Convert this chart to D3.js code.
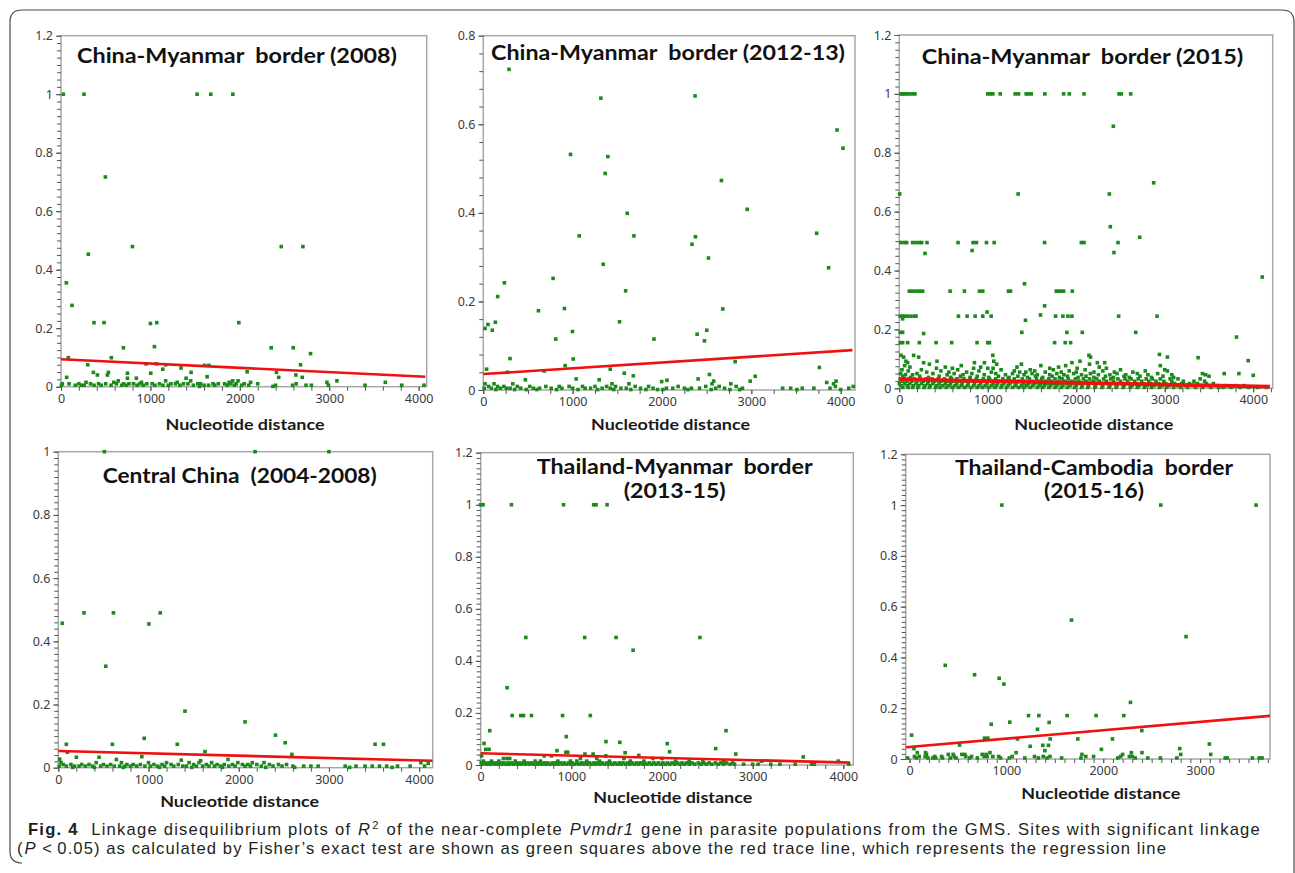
<!DOCTYPE html>
<html>
<head>
<meta charset="utf-8">
<script src="https://cdn.jsdelivr.net/npm/d3@7"></script>
<style>
  body { margin: 0; background: #fff; }
  svg text { white-space: pre; }
  .tick text { font-family: "Noto Sans", sans-serif; font-size: 12.5px; fill: #3a3a3a; }
  .tick line { stroke: #555; }
</style>
</head>
<body>
<svg id="fig" width="1295" height="873"></svg>
<script>
// ---- data: [R2 value, [nucleotide distances...]] rows ----
var cm2008Rows = [
  [1.0, [26, 257, 1522, 1675, 1922]],
  [0.717, [496]],
  [0.479, [799, 2463, 2705]],
  [0.453, [306]],
  [0.355, [60]],
  [0.278, [123]],
  [0.219, [369, 481, 1071, 1989]],
  [0.216, [1000]],
  [0.137, [1045]],
  [0.133, [698, 2351, 2597]],
  [0.113, [2791]],
  [0.099, [82, 563]],
  [0.078, [951, 1067]],
  [0.075, [299, 1172, 2679]],
  [0.073, [1604, 1653]],
  [0.064, [1343]],
  [0.06, [1138]],
  [0.051, [2082]],
  [0.049, [362, 530, 1455, 2410]],
  [0.046, [743, 1004]],
  [0.04, [407, 519, 2627]],
  [0.034, [1634]],
  [0.032, [63, 2435, 2698]],
  [0.029, [743, 843, 1399]],
  [0.02, [640, 1170, 1450, 1920, 1980, 3086]],
  [0.015, [280, 590, 900, 1300, 1880, 2120, 2974, 3627]],
  [0.01, [15, 90, 200, 330, 420, 500, 620, 700, 760, 810, 880, 960, 1020, 1100, 1230, 1280, 1370, 1420, 1530, 1560, 1700, 1760, 1830, 1900, 1960, 2050, 2200, 2630]],
  [0.005, [5, 160, 230, 260, 370, 450, 560, 680, 730, 850, 920, 1050, 1140, 1200, 1330, 1480, 1600, 1650, 1720, 1860, 1940, 2020, 2100, 2400, 2590, 2740, 2800, 2990, 3400, 3810, 4060]],
  [0.001, [1550, 2370]]
];
var cm2012Rows = [
  [0.724, [288]],
  [0.664, [2370]],
  [0.659, [1316]],
  [0.587, [3959]],
  [0.546, [4026]],
  [0.532, [976]],
  [0.527, [1394]],
  [0.489, [1364]],
  [0.473, [2665]],
  [0.408, [2953]],
  [0.399, [1611]],
  [0.354, [3731]],
  [0.348, [1073, 1686]],
  [0.346, [2374]],
  [0.329, [2336]],
  [0.298, [2520]],
  [0.284, [1342]],
  [0.276, [3865]],
  [0.252, [781]],
  [0.242, [236]],
  [0.224, [1593]],
  [0.211, [161]],
  [0.184, [908]],
  [0.183, [2680]],
  [0.179, [617]],
  [0.154, [1525]],
  [0.153, [135]],
  [0.148, [52]],
  [0.139, [19]],
  [0.135, [101, 2501]],
  [0.132, [998]],
  [0.126, [2393]],
  [0.115, [811, 1910]],
  [0.111, [2475]],
  [0.071, [299]],
  [0.07, [1006]],
  [0.064, [2819]],
  [0.055, [916]],
  [0.051, [3761]],
  [0.047, [37, 1421]],
  [0.043, [680]],
  [0.04, [273]],
  [0.038, [1578]],
  [0.035, [2531]],
  [0.032, [1679]],
  [0.031, [3043]],
  [0.025, [1039, 2404]],
  [0.023, [471, 1297]],
  [0.022, [2056]],
  [0.02, [2579, 2987, 3948]],
  [0.019, [1996]],
  [0.017, [3843]],
  [0.014, [20, 120, 330, 1440, 1630, 2560, 2770, 3920]],
  [0.008, [60, 160, 230, 380, 520, 700, 850, 960, 1110, 1250, 1380, 1480, 1700, 1850, 2180, 2490, 2640, 2830, 3940, 4140]],
  [0.004, [10, 90, 190, 260, 300, 420, 560, 630, 760, 880, 1000, 1140, 1200, 1330, 1420, 1540, 1600, 1760, 1900, 2050, 2120, 2250, 2330, 2420, 2600, 2700, 2900, 3350, 3440, 3570, 3700, 3880, 4090]],
  [0.001, [140, 350, 480, 600, 820, 1060, 1280, 1460, 1650, 1820, 1950, 2010, 2290, 2550, 2760, 2870, 3510, 4000]]
];
var cm2015Rows = [
  [1.0, [19, 38, 57, 87, 113, 151, 177, 1000, 1026, 1057, 1140, 1309, 1347, 1434, 1460, 1491, 1645, 1857, 1921, 2087, 2483, 2509, 2615]],
  [0.89, [2419]],
  [0.698, [2875]],
  [0.66, [4, 1343, 2374]],
  [0.549, [2385]],
  [0.513, [2717]],
  [0.495, [19, 57, 83, 151, 189, 226, 253, 313, 664, 834, 872, 985, 1072, 1642, 2057, 2087, 2472]],
  [0.468, [823]],
  [0.461, [2426]],
  [0.458, [291]],
  [0.378, [4102]],
  [0.355, [1415]],
  [0.33, [113, 151, 189, 226, 264, 574, 736, 906, 943, 1234, 1257, 1774, 1800, 1830, 1857, 1955]],
  [0.28, [1642]],
  [0.259, [992]],
  [0.249, [1596]],
  [0.245, [11, 38, 64, 94, 132, 170, 189, 668, 766, 857, 943, 1038, 1766, 1849, 1906, 1951, 2479, 2913]],
  [0.236, [38]],
  [0.231, [1426]],
  [0.19, [11, 38, 1385, 1894, 2068, 2672]],
  [0.186, [275]],
  [0.174, [3811]],
  [0.155, [11, 38, 94, 226, 415, 592, 879, 1000, 1019, 1755, 1875, 1936]],
  [0.115, [2940]],
  [0.112, [19, 162, 1057, 2143]],
  [0.106, [49, 219, 2162, 3030]],
  [0.104, [3377]],
  [0.094, [3943]],
  [0.092, [75, 426, 1068, 2042]],
  [0.087, [94, 275, 849, 962, 1951, 2238, 2321]],
  [0.082, [340, 1100, 1380, 2150]],
  [0.077, [60, 700, 1600, 1880, 2950]],
  [0.072, [120, 520, 920, 1330, 1800, 2260]],
  [0.068, [420, 600, 840, 1000, 1060, 1700, 2010, 2340]],
  [0.063, [30, 250, 660, 1150, 1480, 1740, 2100, 2500, 3000]],
  [0.059, [100, 470, 900, 1300, 1530, 1920, 2300, 2780, 3030]],
  [0.055, [310, 560, 760, 1040, 1360, 1430, 1650, 1830, 2000, 2200, 2430, 2640]],
  [0.05, [15, 200, 380, 620, 820, 1090, 1280, 1500, 1780, 1970, 2160, 2460, 2690, 2920, 3426, 3672, 3838]],
  [0.046, [70, 150, 540, 720, 960, 1200, 1410, 1560, 1700, 1860, 2060, 2250, 2380, 2560, 2810, 3080, 3460]],
  [0.044, [4000]],
  [0.041, [40, 230, 450, 690, 880, 1120, 1340, 1540, 1730, 1900, 2110, 2330, 2540, 2720, 2980, 3500]],
  [0.037, [130, 330, 580, 800, 1010, 1240, 1450, 1620, 1810, 2020, 2200, 2420, 2600, 2850, 3100]],
  [0.032, [10, 55, 110, 170, 240, 300, 370, 440, 510, 590, 650, 730, 800, 870, 950, 1020, 1090, 1170, 1230, 1300, 1390, 1470, 1550, 1610, 1690, 1760, 1840, 1910, 1990, 2080, 2150, 2230, 2310, 2390, 2470, 2550, 2620, 2700, 2790, 2860, 2950, 3060, 3150, 3400]],
  [0.024, [30, 80, 140, 200, 270, 330, 400, 470, 540, 610, 690, 760, 830, 910, 980, 1050, 1130, 1200, 1270, 1350, 1420, 1500, 1580, 1650, 1720, 1800, 1870, 1950, 2030, 2110, 2190, 2260, 2340, 2420, 2500, 2580, 2660, 2740, 2820, 2900, 2990, 3080, 3210, 3330, 3450]],
  [0.016, [0, 60, 120, 190, 250, 320, 380, 450, 520, 580, 650, 710, 780, 850, 920, 990, 1060, 1110, 1180, 1250, 1320, 1400, 1460, 1530, 1600, 1670, 1740, 1810, 1890, 1960, 2040, 2120, 2200, 2280, 2360, 2440, 2520, 2600, 2680, 2760, 2840, 2930, 3010, 3110, 3190, 3280, 3370, 3470, 3550]],
  [0.009, [20, 90, 160, 220, 290, 350, 420, 490, 560, 630, 700, 770, 840, 900, 970, 1040, 1100, 1160, 1230, 1310, 1380, 1440, 1510, 1580, 1640, 1710, 1780, 1850, 1930, 2000, 2070, 2140, 2220, 2300, 2380, 2460, 2540, 2630, 2710, 2800, 2880, 2970, 3050, 3140, 3230, 3320, 3420, 3510, 3600, 3700, 3800, 3900]],
  [0.003, [40, 100, 150, 210, 280, 340, 410, 460, 530, 600, 670, 740, 810, 880, 940, 1010, 1080, 1150, 1210, 1280, 1350, 1410, 1480, 1560, 1620, 1690, 1760, 1830, 1900, 1980, 2060, 2130, 2210, 2290, 2370, 2450, 2530, 2610, 2690, 2770, 2850, 2940, 3020, 3100, 3180, 3260, 3350, 3430, 3520, 3610, 3660, 3750, 3850, 3950, 4050, 4150]]
];
var ccRows = [
  [1.0, [511, 2181, 3000]],
  [0.49, [285, 611, 1130]],
  [0.457, [44]],
  [0.455, [1004]],
  [0.321, [526]],
  [0.179, [1404]],
  [0.145, [2070]],
  [0.103, [2407]],
  [0.093, [952]],
  [0.079, [2515]],
  [0.074, [89, 600, 1319, 3511, 3604]],
  [0.051, [1626]],
  [0.049, [100]],
  [0.042, [2589]],
  [0.035, [926]],
  [0.033, [200, 452]],
  [0.027, [15]],
  [0.026, [644, 1881]],
  [0.024, [1363]],
  [0.022, [1578]],
  [0.016, [30, 420, 700, 1000, 1200, 1450, 1560, 1700, 1990, 2150, 2280, 4019]],
  [0.014, [4100]],
  [0.01, [55, 140, 260, 340, 500, 580, 760, 830, 910, 1060, 1150, 1250, 1330, 1500, 1640, 1760, 1840, 1930, 2040, 2100, 2200, 2340, 2440, 2530]],
  [0.005, [10, 90, 180, 230, 300, 380, 470, 540, 620, 680, 740, 800, 870, 960, 1020, 1100, 1180, 1280, 1380, 1420, 1530, 1600, 1670, 1730, 1800, 1890, 1960, 2070, 2130, 2250, 2380, 2480, 2600, 2720, 2800, 2880, 3180, 3300, 3400, 3480, 3560, 3640, 3760, 3900, 4060]],
  [0.001, [160, 400, 720, 1120, 1480, 1820, 2300, 2620, 3230, 3700]]
];
var tmRows = [
  [1.0, [0, 26, 339, 914, 1246, 1272, 1394]],
  [0.49, [498, 1147, 1493, 2418]],
  [0.441, [1681]],
  [0.297, [291]],
  [0.19, [347, 442, 472, 560, 903, 1209]],
  [0.132, [100, 2706]],
  [0.109, [944]],
  [0.09, [1382]],
  [0.087, [1534]],
  [0.083, [37]],
  [0.082, [2057]],
  [0.063, [2592]],
  [0.06, [55, 92]],
  [0.055, [841]],
  [0.051, [2083]],
  [0.049, [940, 960]],
  [0.047, [1593]],
  [0.042, [1150, 1240, 2813]],
  [0.037, [1744]],
  [0.035, [10, 700, 780, 1380]],
  [0.031, [3558]],
  [0.025, [250, 290, 320, 1100, 1280, 1580, 1900, 2000]],
  [0.015, [30, 120, 200, 380, 480, 600, 660, 850, 990, 1060, 1170, 1310, 1420, 1650, 1800, 2150, 2300, 2450, 2680, 3100, 3945]],
  [0.008, [5, 45, 85, 130, 170, 215, 255, 300, 340, 390, 430, 470, 520, 560, 610, 650, 700, 740, 790, 830, 880, 920, 970, 1010, 1060, 1110, 1150, 1200, 1250, 1290, 1340, 1390, 1430, 1480, 1530, 1570, 1620, 1670, 1720, 1760, 1810, 1860, 1910, 1960, 2010, 2060, 2110, 2170, 2220, 2270, 2330, 2400, 2460, 2520, 2590, 2650, 2710, 2780]],
  [0.003, [20, 65, 105, 150, 190, 235, 280, 320, 365, 410, 450, 495, 540, 585, 630, 675, 720, 765, 810, 855, 900, 945, 990, 1035, 1085, 1130, 1175, 1225, 1270, 1315, 1365, 1410, 1455, 1505, 1550, 1600, 1645, 1695, 1740, 1790, 1835, 1885, 1935, 1985, 2035, 2085, 2140, 2195, 2245, 2300, 2360, 2430, 2490, 2550, 2620, 2680, 2750, 2800, 2900, 3000, 3060, 3200, 3300, 3470, 3650, 3680, 4060]]
];
var tcRows = [
  [1.0, [953, 2594, 3578]],
  [0.547, [1672]],
  [0.482, [2855]],
  [0.369, [368]],
  [0.332, [671]],
  [0.318, [925]],
  [0.295, [974]],
  [0.223, [2281]],
  [0.171, [1228, 1335, 1627, 1926, 2212]],
  [0.145, [1035]],
  [0.144, [1441]],
  [0.137, [843]],
  [0.117, [1321]],
  [0.112, [2398]],
  [0.094, [21]],
  [0.082, [774, 808]],
  [0.079, [1115, 1452, 1737, 2095]],
  [0.059, [3096]],
  [0.055, [516]],
  [0.054, [1376, 1434]],
  [0.05, [1245]],
  [0.041, [45, 2790]],
  [0.038, [1981]],
  [0.033, [1397]],
  [0.025, [80, 165, 830, 1100, 2290, 2400]],
  [0.018, [175, 400, 450, 540, 570, 750, 790, 1780, 2200, 2800, 3110]],
  [0.01, [50, 100, 160, 260, 330, 460, 580, 640, 770, 800, 860, 920, 1060, 1290, 1380, 1450, 1820, 1900, 2180, 2270, 2300]],
  [0.004, [-20, 70, 190, 240, 270, 340, 420, 480, 620, 700, 940, 1030, 1190, 1330, 1420, 1570, 1770, 2150, 2330, 2460, 2590, 2760, 3260, 3280, 3540, 3610, 3640]]
];

// regression (red trace) end points [distance, R2]
var cm2008Trend = [[0, 0.094], [4075, 0.034]];
var cm2012Trend = [[0, 0.036], [4131, 0.090]];
var cm2015Trend = [[0, 0.030], [4189, 0.006]];
var ccTrend = [[0, 0.053], [4148, 0.022]];
var tmTrend = [[0, 0.045], [4074, 0.009]];
var tcTrend = [[-38, 0.046], [3722, 0.170]];

var yTicks12 = [0, 0.2, 0.4, 0.6, 0.8, 1, 1.2];
var yTicks08 = [0, 0.2, 0.4, 0.6, 0.8];
var yTicks10 = [0, 0.2, 0.4, 0.6, 0.8, 1];
var xTicks4000 = [0, 1000, 2000, 3000, 4000];
var xTicks3000 = [0, 1000, 2000, 3000];

var xLabel = "Nucleotide distance";

// caption pieces: [text, style]
var captionLine1 = [
  ["Fig. 4", "bold"],
  ["  Linkage disequilibrium plots of ", ""],
  ["R", "italic"],
  ["2", "sup"],
  [" of the near-complete ", ""],
  ["Pvmdr1", "italic"],
  [" gene in parasite populations from the GMS. Sites with significant linkage", ""]
];
var captionLine2 = [
  ["(", ""],
  ["P", "italic"],
  ["\u2009<\u20090.05) as calculated by Fisher\u2019s exact test are shown as green squares above the red trace line, which represents the regression line", ""]
];

// panel layout (pixels) + per panel axis setup
var panels = [
  {rows: cm2008Rows, trend: cm2008Trend, title: ["China-Myanmar  border (2008)"],
   box: [61, 35.7, 426.7, 386.7], xDomain: [0, 4090], yMax: 1.2, yTicks: yTicks12, yMinor: 0.025, xTicks: xTicks4000, xMinor: 200,
   titleX: 237, titleY: [63], titleW: [320], labelX: 245, labelY: 429.5, lineW: 2.6},
  {rows: cm2012Rows, trend: cm2012Trend, title: ["China-Myanmar  border (2012-13)"],
   box: [483.3, 35.7, 855, 390], xDomain: [0, 4160], yMax: 0.8, yTicks: yTicks08, yMinor: 0.04, xTicks: xTicks4000, xMinor: 250,
   titleX: 668, titleY: [60], titleW: [354], labelX: 670.5, labelY: 429.5, lineW: 2.6},
  {rows: cm2015Rows, trend: cm2015Trend, title: ["China-Myanmar  border (2015)"],
   box: [899.3, 35, 1272.7, 388.3], xDomain: [0, 4220], yMax: 1.2, yTicks: yTicks12, yMinor: 0.025, xTicks: xTicks4000, xMinor: 200,
   titleX: 1082.5, titleY: [64], titleW: [321.6], labelX: 1093.8, labelY: 429.5, lineW: 3.8},
  {rows: ccRows, trend: ccTrend, title: ["Central China  (2004-2008)"],
   box: [58.3, 451.7, 432.7, 767.7], xDomain: [0, 4150], yMax: 1.0, yTicks: yTicks10, yMinor: 0.02, xTicks: xTicks4000, xMinor: 200,
   titleX: 239.7, titleY: [483], titleW: [274], labelX: 239.7, labelY: 806.5, lineW: 2.6},
  {rows: tmRows, trend: tmTrend, title: ["Thailand-Myanmar  border", "(2013-15)"],
   box: [480.7, 452.7, 853.3, 765], xDomain: [0, 4110], yMax: 1.2, yTicks: yTicks12, yMinor: 0.02, xTicks: xTicks4000, xMinor: 200,
   titleX: 674.7, titleY: [474.3, 497.7], titleW: [276, 102], labelX: 672.8, labelY: 803, lineW: 2.6},
  {rows: tcRows, trend: tcTrend, title: ["Thailand-Cambodia  border", "(2015-16)"],
   box: [905.7, 454.3, 1270, 759], xDomain: [-40, 3722], yMax: 1.2, yTicks: yTicks12, yMinor: 0.02, xTicks: xTicks3000, xMinor: 100,
   titleX: 1094, titleY: [475, 498], titleW: [278, 100], labelX: 1100.8, labelY: 799, lineW: 2.6}
];

var svg = d3.select("#fig");

// outer rounded frame (no bottom rule in the figure)
svg.append("path")
  .attr("d", "M 22 863 Q 10 863 10 851 L 10 22 Q 10 10 22 10 L 1282 10 Q 1294 10 1294 22 L 1294 873")
  .attr("fill", "none").attr("stroke", "#4a4a4a").attr("stroke-width", 1.2);

function rowsToPoints(rows) {
  return rows.flatMap(function (r) {
    return r[1].map(function (xv) { return {x: xv, y: r[0]}; });
  });
}

function drawPanel(p) {
  var L = p.box[0], T = p.box[1], R = p.box[2], B = p.box[3];
  var x = d3.scaleLinear().domain(p.xDomain).range([L, R]);
  var y = d3.scaleLinear().domain([0, p.yMax]).range([B, T]);
  var g = svg.append("g").attr("class", "panel");

  g.append("rect").attr("x", L).attr("y", T).attr("width", R - L).attr("height", B - T)
    .attr("fill", "none").attr("stroke", "#a8a8a8").attr("stroke-width", 1.5);

  // minor ticks
  var yMinor = d3.range(0, p.yMax + 1e-9, p.yMinor);
  g.append("g").attr("transform", "translate(" + L + ",0)")
    .call(d3.axisLeft(y).tickValues(yMinor).tickSize(4).tickFormat(""))
    .call(function (a) { a.select(".domain").remove(); });
  var xMinor = d3.range(0, p.xDomain[1], p.xMinor);
  g.append("g").attr("transform", "translate(0," + B + ")")
    .call(d3.axisBottom(x).tickValues(xMinor).tickSize(4).tickFormat(""))
    .call(function (a) { a.select(".domain").remove(); });

  // major ticks + labels
  g.append("g").attr("transform", "translate(" + L + ",0)")
    .call(d3.axisLeft(y).tickValues(p.yTicks).tickSize(5).tickPadding(3).tickFormat(d3.format("~g")))
    .call(function (a) { a.select(".domain").remove(); });
  g.append("g").attr("transform", "translate(0," + B + ")")
    .call(d3.axisBottom(x).tickValues(p.xTicks).tickSize(4).tickPadding(3).tickFormat(d3.format("d")))
    .call(function (a) { a.select(".domain").remove(); });

  // points
  var s = 3.6;
  g.append("g").selectAll("rect")
    .data(rowsToPoints(p.rows))
    .join("rect")
    .attr("x", function (d) { return x(d.x) - s / 2; })
    .attr("y", function (d) { return y(d.y) - s / 2; })
    .attr("width", s).attr("height", s)
    .attr("fill", "#1b8a1b");

  // regression line
  g.append("path")
    .attr("d", d3.line().x(function (d) { return x(d[0]); }).y(function (d) { return y(d[1]); })(p.trend))
    .attr("fill", "none").attr("stroke", "#f01010").attr("stroke-width", p.lineW);

  // title
  p.title.forEach(function (t, i) {
    g.append("text")
      .attr("x", p.titleX).attr("y", p.titleY[i])
      .attr("text-anchor", "middle")
      .attr("textLength", p.titleW[i]).attr("lengthAdjust", "spacingAndGlyphs")
      .style("font-family", "Lato, sans-serif").style("font-weight", "bold")
      .style("font-size", p.title.length > 1 ? "20.5px" : "21px")
      .style("fill", "#111")
      .text(t);
  });

  g.append("text")
    .attr("x", p.labelX).attr("y", p.labelY)
    .attr("text-anchor", "middle")
    .attr("textLength", 159).attr("lengthAdjust", "spacingAndGlyphs")
    .style("font-family", "Lato, sans-serif").style("font-weight", "bold").style("font-size", "15.5px")
    .style("fill", "#1a1a1a")
    .text(xLabel);
}

panels.forEach(drawPanel);

// caption: each piece is its own text, laid out left to right, letter spacing
// stretched so the line ends where the printed one does
var cap = svg.append("g")
  .style("font-family", "'Liberation Sans', Arial, sans-serif").style("fill", "#231f20");

function captionLine(pieces, x0, baseline, endX) {
  var nodes = pieces.map(function (pc) {
    var t = cap.append("text").attr("y", pc[1] === "sup" ? baseline - 6.5 : baseline)
      .style("font-size", pc[1] === "sup" ? "11px" : "16.6px")
      .text(pc[0]);
    if (pc[1] === "bold") t.style("font-weight", "bold");
    if (pc[1] === "italic") t.style("font-style", "italic");
    return t;
  });
  var natural = d3.sum(nodes, function (t) { return t.node().getComputedTextLength(); });
  var chars = d3.sum(pieces, function (pc) { return pc[0].length; });
  var ls = Math.max(0, (endX - x0 - natural - pieces.length) / chars);
  var cx = x0;
  nodes.forEach(function (t) {
    t.style("letter-spacing", ls + "px").attr("x", cx);
    cx += t.node().getComputedTextLength() + 1;
  });
}

captionLine(captionLine1, 28, 835, 1262);
captionLine(captionLine2, 17, 854, 1168);
</script>
</body>
</html>
